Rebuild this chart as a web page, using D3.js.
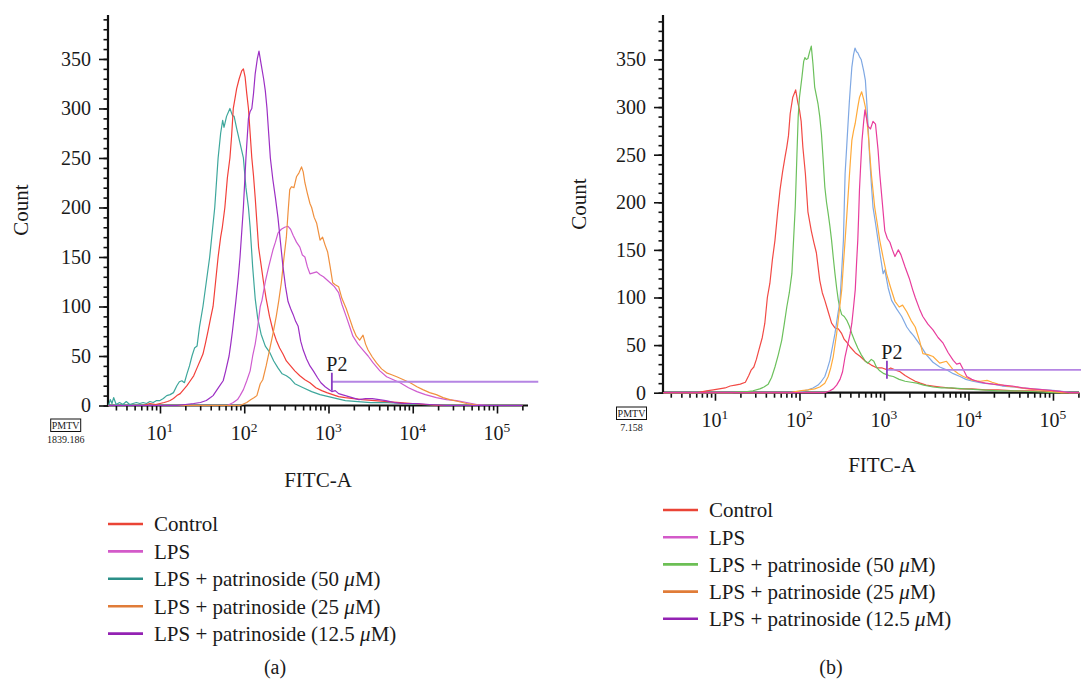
<!DOCTYPE html>
<html>
<head>
<meta charset="utf-8">
<script src="https://cdn.jsdelivr.net/npm/d3@7"></script>
<style>
body { margin: 0; background: #fff; }
svg text { font-family: "Liberation Serif", "Times New Roman", serif; fill: #1a1a1a; }
</style>
</head>
<body>
<svg id="chart" width="1081" height="681"></svg>
<script>
// Legend text (same for both panels)
var legendLabels = ["Control", "LPS", "LPS + patrinoside (50 ", "LPS + patrinoside (25 ", "LPS + patrinoside (12.5 "];
var yTickLabels = [0, 50, 100, 150, 200, 250, 300, 350];
var xTickExponents = [1, 2, 3, 4, 5];

// Histograms: [log10(FITC-A), count]
// Panel (a)
var aControl = [[0.39,0],[0.8,0],[0.88,2],[0.95,1],[1.0,2],[1.05,3],[1.09,4],[1.12,5],[1.16,7],[1.2,10],[1.24,12],[1.28,16],[1.32,20],[1.36,25],[1.4,30],[1.44,38],[1.48,46],[1.51,52],[1.54,63],[1.57,75],[1.6,88],[1.63,100],[1.66,125],[1.69,150],[1.72,170],[1.74,180],[1.77,200],[1.8,230],[1.83,250],[1.85,272],[1.87,300],[1.89,310],[1.91,320],[1.94,330],[1.97,338],[1.99,340],[2.01,332],[2.03,315],[2.05,300],[2.07,275],[2.09,250],[2.11,232],[2.13,210],[2.15,185],[2.17,160],[2.2,142],[2.23,124],[2.26,108],[2.3,90],[2.34,76],[2.38,66],[2.42,58],[2.46,52],[2.5,45],[2.55,40],[2.6,35],[2.66,30],[2.72,26],[2.78,23],[2.85,18],[2.92,15],[2.98,13],[3.05,11],[3.12,9],[3.2,8],[3.3,7],[3.4,6],[3.55,5],[3.7,4],[3.85,3],[4.0,2],[4.15,1],[4.3,0],[5.3,0]];
var aLPS = [[0.39,0],[1.8,0],[1.87,3],[1.92,6],[1.95,10],[1.99,16],[2.03,25],[2.07,35],[2.1,50],[2.13,62],[2.15,73],[2.19,100],[2.21,106],[2.25,125],[2.29,140],[2.34,157],[2.37,165],[2.4,174],[2.44,178],[2.48,180],[2.52,181],[2.55,178],[2.58,172],[2.62,165],[2.66,160],[2.69,152],[2.72,150],[2.75,140],[2.78,133],[2.82,134],[2.86,135],[2.9,132],[2.94,130],[2.98,127],[3.02,124],[3.07,120],[3.12,114],[3.16,102],[3.21,90],[3.25,80],[3.29,70],[3.35,62],[3.41,56],[3.47,50],[3.53,43],[3.61,35],[3.69,29],[3.77,26],[3.85,23],[3.95,18],[4.05,14],[4.15,11],[4.28,8],[4.4,6],[4.52,5],[4.64,3],[4.76,1],[4.9,0],[5.3,0]];
var aPat50 = [[0.39,0],[0.41,6],[0.43,2],[0.45,8],[0.48,1],[0.52,3],[0.56,1],[0.6,4],[0.64,1],[0.68,2],[0.72,3],[0.76,2],[0.8,3],[0.84,2],[0.88,4],[0.92,3],[0.96,5],[1.0,5],[1.04,7],[1.08,10],[1.12,11],[1.16,13],[1.2,20],[1.23,24],[1.26,25],[1.29,23],[1.32,32],[1.35,40],[1.38,50],[1.41,58],[1.44,60],[1.47,80],[1.51,100],[1.55,125],[1.59,150],[1.62,175],[1.65,200],[1.69,250],[1.72,275],[1.744,288],[1.76,281],[1.79,292],[1.83,300],[1.86,293],[1.88,292],[1.91,280],[1.95,265],[1.99,250],[2.02,220],[2.05,200],[2.07,180],[2.1,140],[2.13,108],[2.16,88],[2.2,72],[2.25,60],[2.3,54],[2.35,45],[2.4,38],[2.45,32],[2.5,30],[2.55,27],[2.6,22],[2.7,18],[2.8,14],[2.9,11],[3.0,9],[3.1,7],[3.2,5],[3.35,4],[3.5,3],[3.7,3],[3.9,2],[4.1,1],[4.3,0],[5.3,0]];
var aPat25 = [[0.39,0],[1.95,0],[2.03,3],[2.08,6],[2.12,8],[2.15,10],[2.19,22],[2.22,26],[2.26,40],[2.3,56],[2.34,72],[2.38,90],[2.41,106],[2.44,124],[2.47,148],[2.5,170],[2.52,195],[2.54,218],[2.56,221],[2.59,220],[2.62,231],[2.65,235],[2.68,241],[2.7,236],[2.72,225],[2.75,214],[2.78,204],[2.8,200],[2.83,190],[2.86,184],[2.9,167],[2.93,170],[2.96,162],[2.99,155],[3.02,140],[3.05,124],[3.08,122],[3.12,120],[3.16,108],[3.21,98],[3.25,88],[3.29,78],[3.33,70],[3.37,66],[3.41,71],[3.44,62],[3.47,56],[3.52,49],[3.57,43],[3.63,37],[3.69,33],[3.75,31],[3.81,29],[3.89,26],[3.97,23],[4.05,19],[4.12,16],[4.2,13],[4.28,11],[4.36,8],[4.44,6],[4.54,4],[4.64,2],[4.8,0],[5.3,0]];
var aPat12 = [[0.39,0],[1.2,0],[1.3,1],[1.4,2],[1.48,3],[1.55,5],[1.6,8],[1.63,10],[1.67,15],[1.71,20],[1.75,25],[1.78,35],[1.82,50],[1.84,62],[1.86,75],[1.88,90],[1.9,105],[1.93,130],[1.95,150],[1.97,175],[1.99,200],[2.02,250],[2.05,290],[2.07,297],[2.09,300],[2.11,315],[2.13,335],[2.155,350],[2.175,358],[2.2,345],[2.23,330],[2.25,318],[2.27,300],[2.29,275],[2.31,250],[2.34,228],[2.37,210],[2.4,190],[2.43,165],[2.46,140],[2.49,120],[2.52,105],[2.55,98],[2.58,92],[2.61,85],[2.64,80],[2.67,65],[2.7,56],[2.74,47],[2.78,40],[2.82,35],[2.87,28],[2.91,23],[2.96,19],[3.01,16],[3.04,14],[3.08,15],[3.12,12],[3.2,10],[3.28,8],[3.36,6],[3.44,7],[3.52,7],[3.6,6],[3.68,5],[3.78,3],[3.9,2],[4.05,2],[4.2,1],[4.4,0],[5.3,0]];

// Panel (b)
var bControl = [[0.39,0],[0.8,0],[0.9,2],[0.98,3],[1.05,4],[1.12,5],[1.18,7],[1.24,8],[1.3,9],[1.36,11],[1.4,18],[1.43,24],[1.46,27],[1.49,35],[1.52,45],[1.56,58],[1.59,73],[1.62,100],[1.65,115],[1.68,140],[1.71,160],[1.74,188],[1.77,213],[1.8,232],[1.83,248],[1.85,258],[1.87,270],[1.89,293],[1.92,310],[1.955,318],[1.98,305],[2.0,297],[2.02,285],[2.04,258],[2.07,230],[2.1,190],[2.14,170],[2.17,158],[2.2,147],[2.24,118],[2.27,105],[2.3,97],[2.34,85],[2.38,73],[2.42,68],[2.46,67],[2.5,62],[2.53,56],[2.56,53],[2.6,48],[2.66,42],[2.72,38],[2.78,33],[2.85,29],[2.92,26],[2.98,26],[3.04,24],[3.08,26],[3.13,24],[3.19,22],[3.25,18],[3.31,15],[3.37,12],[3.43,10],[3.5,8],[3.58,7],[3.67,6],[3.76,5],[3.9,4],[4.04,4],[4.2,3],[4.35,3],[4.55,2],[4.77,2],[5.0,1],[5.1,0],[5.31,0]];
var bLPS = [[0.39,0],[2.3,0],[2.36,2],[2.4,4],[2.44,8],[2.48,14],[2.51,22],[2.54,38],[2.57,50],[2.6,62],[2.62,73],[2.64,90],[2.66,108],[2.675,135],[2.69,160],[2.7,185],[2.71,213],[2.725,240],[2.74,265],[2.76,285],[2.775,297],[2.79,290],[2.81,280],[2.84,277],[2.87,285],[2.9,282],[2.93,255],[2.95,230],[2.98,200],[3.01,170],[3.04,162],[3.07,158],[3.1,150],[3.13,143],[3.17,150],[3.2,145],[3.25,132],[3.3,120],[3.34,108],[3.37,100],[3.42,88],[3.46,80],[3.52,72],[3.58,66],[3.64,58],[3.7,52],[3.76,42],[3.82,34],[3.86,30],[3.9,31],[3.94,24],[3.98,17],[4.04,14],[4.1,12],[4.2,10],[4.29,9],[4.4,8],[4.52,7],[4.64,5],[4.76,4],[4.9,3],[5.03,2],[5.2,0],[5.31,0]];
var bPat50 = [[0.39,0],[1.2,0],[1.3,1],[1.36,1],[1.45,2],[1.53,4],[1.58,6],[1.63,9],[1.67,16],[1.71,27],[1.75,40],[1.79,55],[1.82,72],[1.85,90],[1.88,105],[1.91,125],[1.93,160],[1.95,195],[1.97,250],[1.985,290],[2.0,310],[2.03,332],[2.05,348],[2.065,352],[2.08,350],[2.1,351],[2.12,358],[2.14,364],[2.16,345],[2.18,321],[2.2,312],[2.22,303],[2.24,290],[2.26,272],[2.28,245],[2.3,216],[2.32,200],[2.34,188],[2.36,175],[2.38,160],[2.4,142],[2.42,125],[2.44,110],[2.46,97],[2.48,88],[2.5,82],[2.53,80],[2.56,76],[2.59,70],[2.62,62],[2.65,55],[2.69,47],[2.73,40],[2.78,33],[2.81,31],[2.85,35],[2.88,33],[2.91,27],[2.95,23],[3.0,20],[3.06,18],[3.11,17],[3.18,14],[3.25,12],[3.32,11],[3.39,10],[3.47,8],[3.58,6],[3.68,5],[3.8,5],[3.95,4],[4.16,3],[4.35,2],[4.55,2],[4.8,1],[5.0,0],[5.31,0]];
var bPat25 = [[0.39,0],[1.9,0],[2.0,2],[2.1,3],[2.18,4],[2.24,6],[2.3,10],[2.34,17],[2.37,26],[2.4,38],[2.44,62],[2.47,85],[2.5,108],[2.52,135],[2.54,160],[2.56,186],[2.58,213],[2.6,240],[2.62,265],[2.64,275],[2.66,283],[2.69,300],[2.71,310],[2.736,316],[2.76,308],[2.78,300],[2.8,285],[2.82,265],[2.85,230],[2.89,195],[2.92,178],[2.95,160],[2.99,142],[3.03,125],[3.08,110],[3.13,96],[3.18,90],[3.22,92],[3.27,85],[3.32,76],[3.37,69],[3.42,55],[3.46,41],[3.52,40],[3.58,38],[3.66,31],[3.74,33],[3.82,24],[3.88,20],[3.94,17],[4.05,13],[4.14,12],[4.22,13],[4.28,11],[4.35,9],[4.45,7],[4.56,6],[4.7,4],[4.84,3],[5.0,1],[5.1,0],[5.31,0]];
var bPat12 = [[0.39,0],[1.95,0],[2.05,2],[2.1,3],[2.16,5],[2.22,8],[2.26,12],[2.3,17],[2.33,25],[2.36,34],[2.39,48],[2.42,62],[2.45,80],[2.48,97],[2.5,128],[2.52,160],[2.53,195],[2.54,230],[2.56,260],[2.575,283],[2.59,305],[2.6,318],[2.62,342],[2.64,355],[2.657,362],[2.675,358],[2.69,357],[2.71,353],[2.73,350],[2.76,338],[2.78,328],[2.8,300],[2.815,275],[2.83,248],[2.85,220],[2.87,195],[2.9,178],[2.93,160],[2.96,142],[2.99,125],[3.01,129],[3.05,110],[3.09,97],[3.15,88],[3.21,80],[3.27,69],[3.31,64],[3.35,60],[3.43,50],[3.5,40],[3.58,32],[3.66,27],[3.74,24],[3.82,20],[3.9,17],[3.97,14],[4.05,12],[4.17,10],[4.29,9],[4.4,7],[4.52,6],[4.64,5],[4.76,4],[4.92,3],[5.07,2],[5.2,0],[5.31,0]];

// P2 gate: [log10 start, log10 end, count level]
var aGate = [3.04, 5.49, 24];
var bGate = [3.035, 5.35, 24];
var aPmtv = "1839.186";
var bPmtv = "7.158";

var svg = d3.select("#chart");

function drawPanel(p) {
    var x = d3.scaleLog().domain([Math.pow(10, p.xlo), Math.pow(10, p.xhi)]).range([p.left, p.right]);
    var y = d3.scaleLinear().domain([0, p.ymax]).range([p.bottom, p.top]);
    var g = svg.append("g");

    // minor y ticks
    g.append("g")
        .attr("transform", "translate(" + p.left + ",0)")
        .call(d3.axisLeft(y).tickValues(d3.range(0, 391, 10)).tickSize(4.5).tickFormat(""))
        .call(function(s) { s.select(".domain").remove(); s.selectAll("line").attr("stroke", "#111").attr("stroke-width", 1.6); });
    // major y ticks + labels
    g.append("g")
        .attr("transform", "translate(" + p.left + ",0)")
        .call(d3.axisLeft(y).tickValues(yTickLabels).tickSize(9).tickPadding(8))
        .call(function(s) {
            s.select(".domain").remove();
            s.selectAll("line").attr("stroke", "#111").attr("stroke-width", 1.6);
            s.selectAll("text").attr("font-size", 20).attr("font-family", null).attr("fill", "#1a1a1a");
        });

    // x ticks (log)
    var minor = [];
    for (var e = 0; e <= 5; e++) {
        for (var m = 2; m <= 9; m++) {
            var v = m * Math.pow(10, e);
            if (v > x.domain()[0] && v < x.domain()[1]) minor.push(v);
        }
    }
    var majors = xTickExponents.map(function(k) { return Math.pow(10, k); });
    g.append("g")
        .attr("transform", "translate(0," + p.bottom + ")")
        .call(d3.axisBottom(x).tickValues(minor).tickSize(5).tickFormat(""))
        .call(function(s) { s.select(".domain").remove(); s.selectAll("line").attr("stroke", "#111").attr("stroke-width", 1.6); });
    g.append("g")
        .attr("transform", "translate(0," + p.bottom + ")")
        .call(d3.axisBottom(x).tickValues(majors).tickSize(8).tickFormat(""))
        .call(function(s) { s.select(".domain").remove(); s.selectAll("line").attr("stroke", "#111").attr("stroke-width", 1.6); });

    var xl = g.selectAll(".xlab").data(xTickExponents).enter().append("text")
        .attr("x", function(k) { return x(Math.pow(10, k)); })
        .attr("y", p.bottom + 34.5)
        .attr("text-anchor", "middle")
        .attr("font-size", 20);
    xl.append("tspan").text("10");
    xl.append("tspan").attr("dy", -8).attr("font-size", 13.5).text(function(k) { return k; });

    // axis lines
    g.append("line").attr("x1", p.left).attr("x2", p.left).attr("y1", p.top).attr("y2", p.bottom + 1)
        .attr("stroke", "#111").attr("stroke-width", 2.2);
    g.append("line").attr("x1", p.left - 1).attr("x2", p.right).attr("y1", p.bottom).attr("y2", p.bottom)
        .attr("stroke", "#111").attr("stroke-width", 2.2);

    // histograms
    var line = d3.line()
        .x(function(d) { return x(Math.pow(10, d[0])); })
        .y(function(d) { return y(d[1]); });
    p.series.forEach(function(s) {
        g.append("path")
            .datum(s.data)
            .attr("d", line)
            .attr("fill", "none")
            .attr("stroke", s.color)
            .attr("stroke-width", 1.2)
            .attr("stroke-linejoin", "round");
    });

    // P2 gate
    var gx0 = x(Math.pow(10, p.gate[0])), gx1 = x(Math.pow(10, p.gate[1])), gy = y(p.gate[2]);
    g.append("line").attr("x1", gx0).attr("x2", gx1).attr("y1", gy).attr("y2", gy)
        .attr("stroke", "#b585e3").attr("stroke-width", 1.8);
    g.append("line").attr("x1", gx0).attr("x2", gx0).attr("y1", gy - 9).attr("y2", gy + 9)
        .attr("stroke", "#8a3cc2").attr("stroke-width", 1.8);
    g.append("text").attr("x", gx0 + 5).attr("y", gy - 11).attr("text-anchor", "middle")
        .attr("font-size", 20).text("P2");

    // axis titles
    g.append("text")
        .attr("transform", "translate(" + p.countX + "," + p.countY + ") rotate(-90)")
        .attr("text-anchor", "middle").attr("dy", "0.35em")
        .attr("font-size", 21).text("Count");
    g.append("text")
        .attr("x", (p.left + p.right) / 2 + p.titleShift).attr("y", p.titleY)
        .attr("text-anchor", "middle").attr("font-size", 21).text("FITC-A");

    // PMTV box
    g.append("rect").attr("x", p.pmtvX - 15).attr("y", p.pmtvY).attr("width", 30).attr("height", 12.5)
        .attr("fill", "none").attr("stroke", "#111").attr("stroke-width", 1);
    g.append("text").attr("x", p.pmtvX).attr("y", p.pmtvY + 10).attr("text-anchor", "middle")
        .attr("font-size", 10).text("PMTV");
    g.append("text").attr("x", p.pmtvX).attr("y", p.pmtvY + 24).attr("text-anchor", "middle")
        .attr("font-size", 10).text(p.pmtv);

    // legend
    var lg = g.selectAll(".leg").data(legendLabels).enter().append("g")
        .attr("transform", function(d, i) { return "translate(" + p.legX + "," + (p.legY + i * p.legStep) + ")"; });
    lg.append("line").attr("x1", 0).attr("x2", 35).attr("y1", 0).attr("y2", 0)
        .attr("stroke", function(d, i) { return p.legendColors[i]; }).attr("stroke-width", 2.6);
    var lt = lg.append("text").attr("x", 46).attr("dy", "0.35em").attr("font-size", 21);
    lt.append("tspan").text(function(d) { return d; });
    lt.filter(function(d, i) { return i >= 2; }).append("tspan").attr("font-style", "italic").text("\u03bc");
    lt.filter(function(d, i) { return i >= 2; }).append("tspan").text("M)");

    g.append("text").attr("x", p.capX).attr("y", 674).attr("text-anchor", "middle")
        .attr("font-size", 20).text(p.caption);
}

drawPanel({
    left: 108, right: 528, top: 15, bottom: 405.5,
    xlo: 0.383, xhi: 5.368, ymax: 394.4,
    series: [
        { data: aPat50, color: "#3ea79c" },
        { data: aControl, color: "#f2403a" },
        { data: aLPS, color: "#cf5ccf" },
        { data: aPat25, color: "#f0903e" },
        { data: aPat12, color: "#9c2fc4" }
    ],
    legendColors: ["#ea4436", "#d35ac9", "#2b8f88", "#e07c38", "#9322b3"],
    gate: aGate, pmtv: aPmtv, pmtvX: 65.7, pmtvY: 419,
    countX: 21, countY: 210, titleShift: 0, titleY: 487,
    legX: 108, legY: 524, legStep: 27.4, capX: 275, caption: "(a)"
});

drawPanel({
    left: 663, right: 1079, top: 15, bottom: 392.7,
    xlo: 0.385, xhi: 5.308, ymax: 396.7,
    series: [
        { data: bControl, color: "#f24a45" },
        { data: bPat50, color: "#6cc05c" },
        { data: bPat12, color: "#7fa8e3" },
        { data: bPat25, color: "#ffaa3a" },
        { data: bLPS, color: "#e83c9c" }
    ],
    legendColors: ["#ea4436", "#d35ac9", "#6cbf55", "#e07c38", "#9322b3"],
    gate: bGate, pmtv: bPmtv, pmtvX: 631.5, pmtvY: 407,
    countX: 578.5, countY: 204, titleShift: 11, titleY: 472,
    legX: 663, legY: 510, legStep: 27.2, capX: 831, caption: "(b)"
});
</script>
</body>
</html>
